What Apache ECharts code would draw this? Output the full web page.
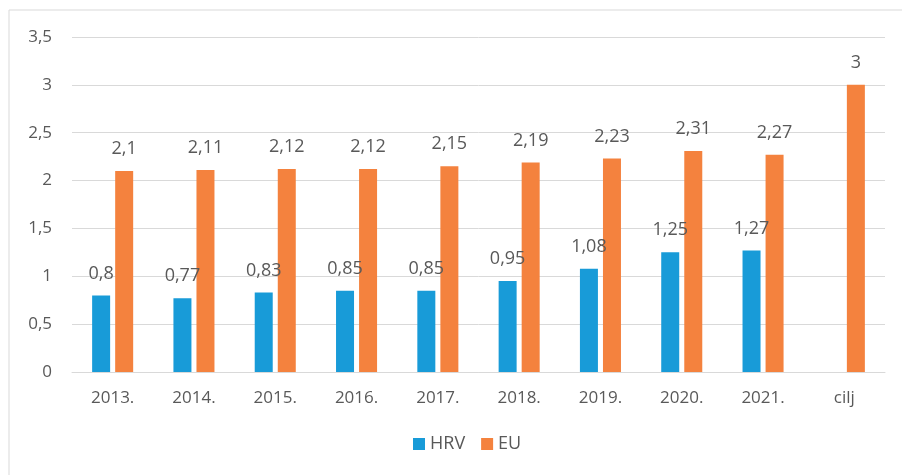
<!DOCTYPE html>
<html>
<head>
<meta charset="utf-8">
<script src="https://cdn.jsdelivr.net/npm/echarts@6/dist/echarts.min.js"></script>
<style>
  html, body { margin: 0; padding: 0; background: #ffffff; }
  #chart { width: 902px; height: 475px; }
</style>
</head>
<body>
<div id="chart"></div>
<script>
// Categories and series values
var categories = ['2013.', '2014.', '2015.', '2016.', '2017.', '2018.', '2019.', '2020.', '2021.', 'cilj'];
var hrvValues = [0.8, 0.77, 0.83, 0.85, 0.85, 0.95, 1.08, 1.25, 1.27, null];
var euValues = [2.1, 2.11, 2.12, 2.12, 2.15, 2.19, 2.23, 2.31, 2.27, 3];
var seriesNames = ['HRV', 'EU'];

var FONT = '"Open Sans", "Noto Sans", sans-serif';
var TEXT = '#595959';

function fmt(v) {
  return String(v).replace('.', ',');
}

var chart = echarts.init(document.getElementById('chart'), null, { renderer: 'canvas' });

function labelCfg() {
  return {
    show: true,
    position: 'top',
    distance: 13,
    color: TEXT,
    fontFamily: FONT,
    fontSize: 18,
    formatter: function (p) { return p.value == null ? '' : fmt(p.value); }
  };
}

chart.setOption({
  animation: false,
  backgroundColor: '#ffffff',
  graphic: [{
    type: 'rect',
    shape: { x: 9, y: 10, width: 1000, height: 1000 },
    style: { fill: 'none', stroke: '#d9d9d9', lineWidth: 1 },
    silent: true
  }],
  grid: { left: 72, right: 17, top: 37, bottom: 103 },
  legend: {
    bottom: 17,
    left: 408,
    itemWidth: 12,
    itemHeight: 12,
    itemGap: 16,
    icon: 'rect',
    textStyle: { color: TEXT, fontFamily: FONT, fontSize: 18 },
    data: seriesNames
  },
  xAxis: {
    type: 'category',
    data: categories,
    axisLine: { show: true, lineStyle: { color: '#d9d9d9', width: 1 } },
    axisTick: { show: false },
    axisLabel: { color: TEXT, fontFamily: FONT, fontSize: 17, margin: 18 }
  },
  yAxis: {
    type: 'value',
    min: 0,
    max: 3.5,
    interval: 0.5,
    axisLine: { show: false },
    axisTick: { show: false },
    splitLine: { lineStyle: { color: '#d9d9d9', width: 1 } },
    axisLabel: {
      color: TEXT, fontFamily: FONT, fontSize: 17, margin: 20,
      formatter: function (v) { return fmt(v); }
    }
  },
  series: [
    {
      name: seriesNames[0],
      type: 'bar',
      data: hrvValues,
      barWidth: 18,
      barGap: '28%',
      itemStyle: { color: '#189bd8' },
      label: labelCfg()
    },
    {
      name: seriesNames[1],
      type: 'bar',
      data: euValues,
      barWidth: 18,
      barGap: '28%',
      itemStyle: { color: '#f4823e' },
      label: labelCfg()
    }
  ]
});
</script>
</body>
</html>
